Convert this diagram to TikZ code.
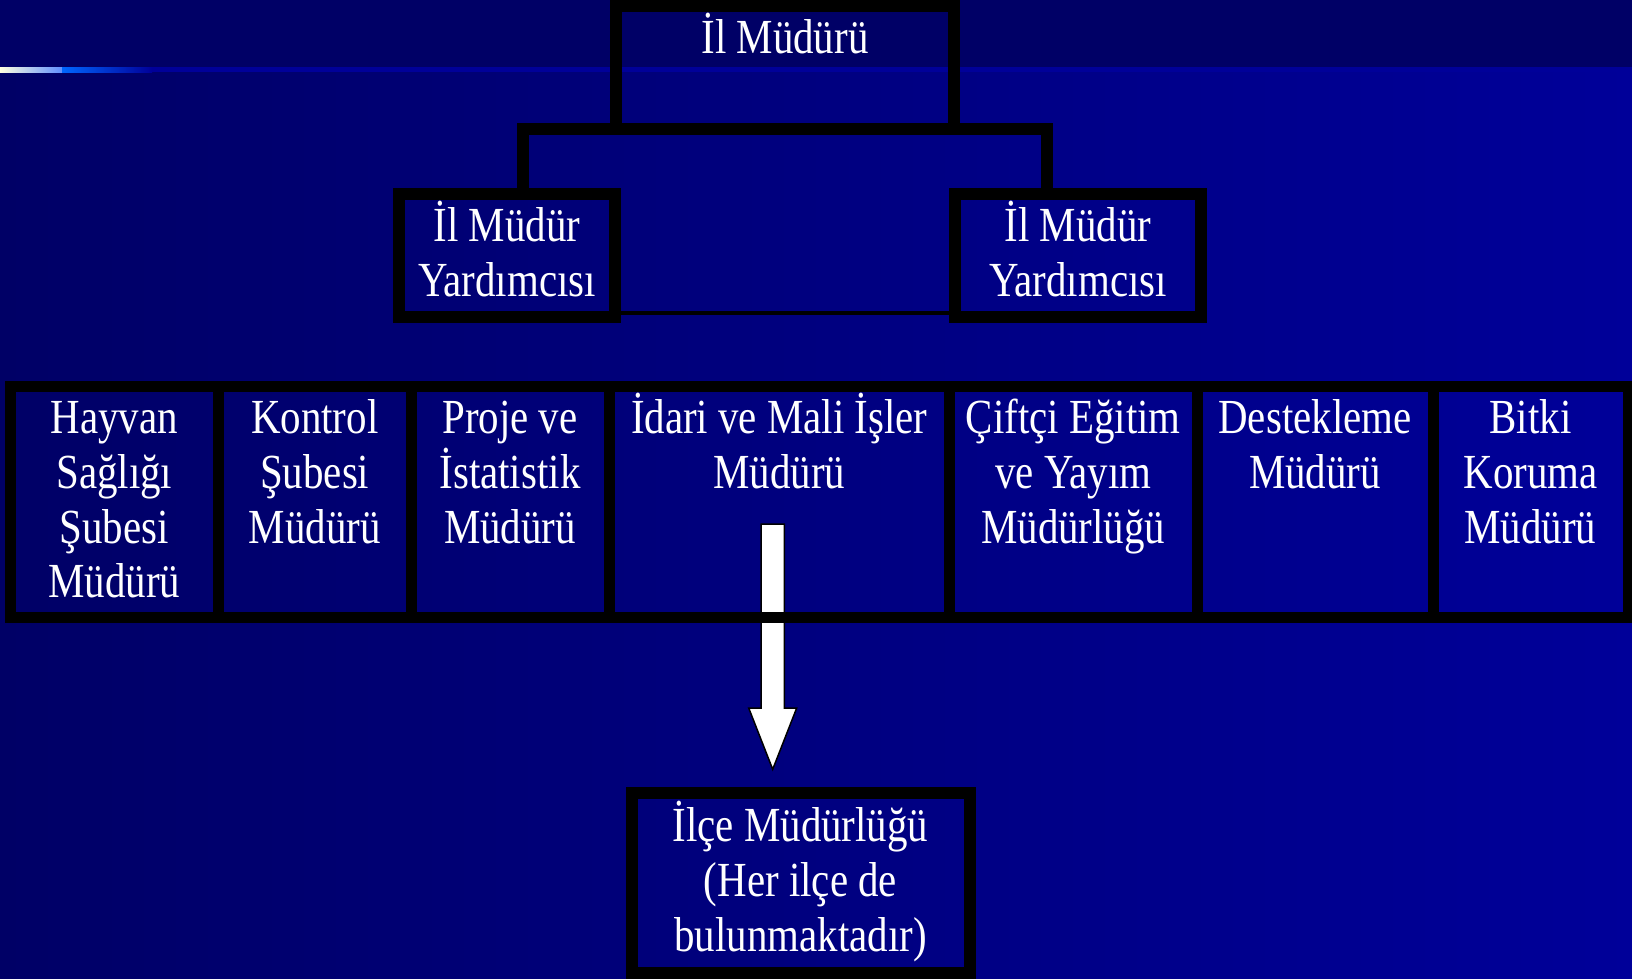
\documentclass[tikz,border=0pt]{standalone}
\usepackage{fontspec}
\newfontfamily\orgfont{Liberation Serif}[FakeStretch=0.835]
\usetikzlibrary{calc}
\definecolor{bgdark}{RGB}{0,0,102}
\definecolor{bgblue}{RGB}{0,0,153}
\definecolor{stripecream}{RGB}{255,255,224}
\definecolor{stripelight}{RGB}{95,143,255}
\definecolor{stripeblue}{RGB}{0,102,255}

\begin{document}
\begin{tikzpicture}[x=1pt,y=-1pt,
  orgbox/.style={draw=black, line width=12pt, inner sep=0pt, outer sep=0pt, text=white, align=center,
    font=\orgfont\fontsize{49}{55}\selectfont},
  cellbox/.style={orgbox, line width=11pt},
  orglink/.style={draw=black, line width=12pt},
  thinlink/.style={draw=black, line width=4pt},
  blockarrow/.style={fill=white, draw=black, line width=1.5pt}]
\useasboundingbox (0,0) rectangle (1632,978);
\clip (0,0) rectangle (1632,978);
% background
\shade[left color=bgdark, right color=bgblue] (0,72) rectangle (1632,978);
\fill[bgdark] (0,0) rectangle (1632,67);
\fill[bgblue] (0,67) rectangle (1632,72);
\shade[left color=stripecream, right color=stripelight] (0,67) rectangle (62,72);
\shade[left color=stripeblue, right color=bgblue] (62,67) rectangle (152,72);
% top of the chart
\node[orgbox, minimum width=338, text height=47pt, text depth=75.5pt, anchor=north] (ilmudur) at (785,6) {İl Müdürü};
\node[orgbox, minimum width=216, text height=102pt, text depth=21pt, anchor=north] (yard1) at (507,194) {İl Müdür\\Yardımcısı};
\node[orgbox, minimum width=246, text height=102pt, text depth=21pt, anchor=north] (yard2) at (1078,194) {İl Müdür\\Yardımcısı};
\draw[orglink] ([xshift=15.5pt]yard1.north) |- (ilmudur.south) -| ([xshift=-31pt]yard2.north);
\draw[thinlink] ([yshift=-57.5pt]yard1.east) -- ([yshift=-57.5pt]yard2.west);
% district office
\node[orgbox, minimum width=338, text height=158pt, text depth=21.5pt, anchor=north] (ilce) at (800.5,793) {İlçe Müdürlüğü\\(Her ilçe de\\bulunmaktadır)};
% arrow
\coordinate (arrowtop) at (772.7,524);
\coordinate (arrowtip) at ([yshift=23.7pt]ilce.north -| arrowtop);
\draw[blockarrow] ([xshift=-11.6pt]arrowtop) -- ([xshift=11.6pt]arrowtop)
  -- ([xshift=11.6pt,yshift=61.3pt]arrowtip) -- ([xshift=24pt,yshift=61.3pt]arrowtip)
  -- (arrowtip) -- ([xshift=-24pt,yshift=61.3pt]arrowtip)
  -- ([xshift=-11.6pt,yshift=61.3pt]arrowtip) -- cycle;
% branch offices
\foreach \name/\cx/\w/\nl/\lab in {hayvan/114.25/208.5/4/{Hayvan\\Sağlığı\\Şubesi\\Müdürü},
    kontrol/314.75/192.5/3/{Kontrol\\Şubesi\\Müdürü},
    proje/510/198/3/{Proje ve\\İstatistik\\Müdürü},
    idari/779.25/340.5/2/{İdari ve Mali İşler\\Müdürü},
    ciftci/1073.25/247.5/3/{Çiftçi Eğitim\\ve Yayım\\Müdürlüğü},
    destek/1315/236/2/{Destekleme\\Müdürü},
    bitki/1530.5/195/3/{Bitki\\Koruma\\Müdürü}}{
  \pgfmathsetmacro\th{47+54.7*(\nl-1)}
  \pgfmathsetmacro\td{230.3-\th}
  \node[cellbox, font=\orgfont\fontsize{49}{54.7}\selectfont, minimum width=\w, text height=\th pt, text depth=\td pt,
    anchor=north] (\name) at (\cx,386.7) {\lab};
}
\end{tikzpicture}
\end{document}
